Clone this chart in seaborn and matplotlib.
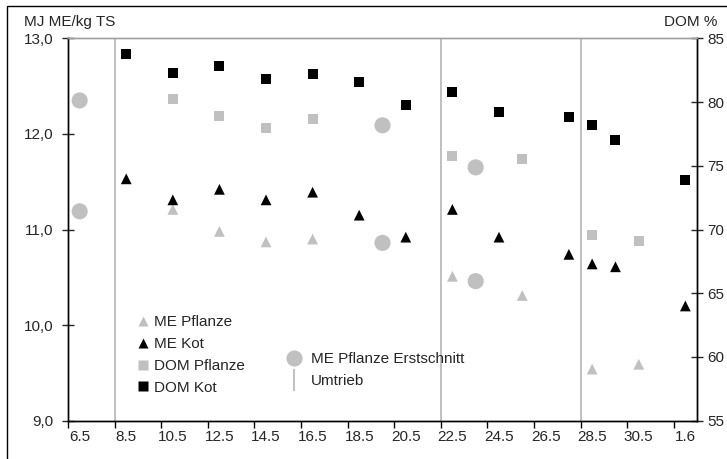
import matplotlib
matplotlib.use("Agg")
import matplotlib.pyplot as plt
import matplotlib.dates as mdates
from matplotlib.lines import Line2D
from matplotlib.patches import Rectangle
from matplotlib.ticker import FixedLocator, FuncFormatter, MultipleLocator, NullFormatter
import pandas as pd
import seaborn as sns

# ---- data ---------------------------------------------------------------
YEAR = 2008
# sampling dates (day.month)
me_pflanze_dates = ["10.5", "12.5", "14.5", "16.5", "22.5", "25.5", "28.5", "30.5"]
me_pflanze = [11.21, 10.98, 10.87, 10.90, 10.51, 10.31, 9.54, 9.59]

me_kot_dates = ["8.5", "10.5", "12.5", "14.5", "16.5", "18.5", "20.5", "22.5",
                "24.5", "27.5", "28.5", "29.5", "1.6"]
me_kot = [11.53, 11.31, 11.42, 11.31, 11.39, 11.15, 10.92, 11.21,
          10.92, 10.74, 10.64, 10.61, 10.20]

dom_pflanze_dates = ["10.5", "12.5", "14.5", "16.5", "22.5", "25.5", "28.5", "30.5"]
dom_pflanze = [80.2, 78.9, 78.0, 78.7, 75.8, 75.5, 69.6, 69.1]

dom_kot_dates = ["8.5", "10.5", "12.5", "14.5", "16.5", "18.5", "20.5", "22.5",
                 "24.5", "27.5", "28.5", "29.5", "1.6"]
dom_kot = [83.8, 82.3, 82.8, 81.8, 82.2, 81.6, 79.8, 80.8,
           79.2, 78.8, 78.2, 77.0, 73.9]

erstschnitt_dates = ["6.5", "6.5", "19.5", "19.5", "23.5", "23.5"]
erstschnitt = [12.35, 11.19, 12.09, 10.86, 11.65, 10.46]

umtrieb_dates = ["8.5", "22.5", "28.5"]

axis_start, axis_end = "6.5", "2.6"
tick_dates = ["6.5", "8.5", "10.5", "12.5", "14.5", "16.5", "18.5", "20.5",
              "22.5", "24.5", "26.5", "28.5", "30.5", "1.6"]


def to_day(labels):
    """Day.month strings -> timestamps at the start of each day."""
    return pd.to_datetime([f"{s}.{YEAR}" for s in labels], format="%d.%m.%Y")


def mid_day(labels):
    # every value sits in the middle of its day slot
    return to_day(labels) + pd.Timedelta(hours=12)


GREY = "#c0c0c0"
BLACK = "#000000"

# ---- figure ---------------------------------------------------------------
sns.set_style("ticks")
plt.rcParams["font.family"] = ["Liberation Sans", "DejaVu Sans"]
plt.rcParams["font.size"] = 11

W, H = 727, 459
fig = plt.figure(figsize=(W / 100, H / 100), dpi=100)
L, R, T, B = 68, 697, 38.3, 420.7
ax = fig.add_axes([L / W, 1 - B / H, (R - L) / W, (B - T) / H])
ax2 = ax.twinx()

# outer chart frame (left/top edges)
fig.patches.append(Rectangle((7 / W, -0.1), 1.2, 1 - 6 / H + 0.1,
                             transform=fig.transFigure, fill=False,
                             edgecolor="black", linewidth=1.0))

# rotation boundaries
for d in to_day(umtrieb_dates):
    ax.axvline(d, color=GREY, linewidth=1.4, zorder=1)

kw = dict(edgecolor="none", legend=False, zorder=3)
sns.scatterplot(x=mid_day(erstschnitt_dates), y=erstschnitt, ax=ax,
                marker="o", s=135, color=GREY, **kw)
sns.scatterplot(x=mid_day(me_pflanze_dates), y=me_pflanze, ax=ax,
                marker="^", s=60, color=GREY, **kw)
sns.scatterplot(x=mid_day(me_kot_dates), y=me_kot, ax=ax,
                marker="^", s=60, color=BLACK, **kw)
sns.scatterplot(x=mid_day(dom_pflanze_dates), y=dom_pflanze, ax=ax2,
                marker="s", s=52, color=GREY, **kw)
sns.scatterplot(x=mid_day(dom_kot_dates), y=dom_kot, ax=ax2,
                marker="s", s=52, color=BLACK, **kw)

# ---- axes -----------------------------------------------------------------
x0, x1 = to_day([axis_start, axis_end])
ax.set_xlim(x0, x1)
ax.set_ylim(9, 13)
ax2.set_ylim(55, 85)
ax.yaxis.set_major_locator(MultipleLocator(1))
ax.yaxis.set_major_formatter(FuncFormatter(lambda v, p: f"{v:.1f}".replace(".", ",")))
ax2.yaxis.set_major_locator(MultipleLocator(5))

ticks = to_day(tick_dates)
ax.xaxis.set_major_locator(FixedLocator(mdates.date2num(ticks)))
ax.xaxis.set_major_formatter(NullFormatter())
ax.xaxis.set_minor_locator(FixedLocator(mdates.date2num(ticks + pd.Timedelta(hours=12))))
ax.xaxis.set_minor_formatter(FuncFormatter(
    lambda v, p: f"{mdates.num2date(v).day}.{mdates.num2date(v).month}"))
ax.tick_params(axis="x", which="major", direction="out", length=5, width=1, color="black")
ax.tick_params(axis="x", which="minor", length=0, pad=7, labelsize=11)
ax.tick_params(axis="y", direction="inout", length=9, width=1, pad=6, labelsize=11)
ax2.tick_params(axis="y", direction="inout", length=9, width=1, pad=3, labelsize=11)

for a in (ax, ax2):
    for side in ("left", "right", "bottom"):
        a.spines[side].set_color("black")
        a.spines[side].set_linewidth(1.0)
    a.spines["top"].set_color("#a0a0a0")
    a.spines["top"].set_linewidth(1.0)
    a.set_xlabel("")
    a.set_ylabel("")

fig.text(24 / W, 1 - 22 / H, "MJ ME/kg TS", fontsize=11, va="center", ha="left")
fig.text(717 / W, 1 - 22 / H, "DOM %", fontsize=11, va="center", ha="right")

# ---- legends ----------------------------------------------------------------
h1 = [
    Line2D([], [], ls="none", marker="^", ms=7.5, color=GREY, mec="none", label="ME Pflanze"),
    Line2D([], [], ls="none", marker="^", ms=7.5, color=BLACK, mec="none", label="ME Kot"),
    Line2D([], [], ls="none", marker="s", ms=7.2, color=GREY, mec="none", label="DOM Pflanze"),
    Line2D([], [], ls="none", marker="s", ms=7.2, color=BLACK, mec="none", label="DOM Kot"),
]
fig.legend(handles=h1, loc="upper left", bbox_to_anchor=(136.7 / W, 1 - 315 / H),
           bbox_transform=fig.transFigure, frameon=False, borderpad=0,
           borderaxespad=0, handlelength=0.8, handletextpad=0.3,
           labelspacing=0.52, fontsize=11)

h2 = [
    Line2D([], [], ls="none", marker="o", ms=11.6, color=GREY, mec="none",
           label="ME Pflanze Erstschnitt"),
    Line2D([], [], ls="none", marker="|", ms=15.5, mew=1.4, color=GREY, label="Umtrieb"),
]
fig.legend(handles=h2, loc="upper left", bbox_to_anchor=(286 / W, 1 - 352 / H),
           bbox_transform=fig.transFigure, frameon=False, borderpad=0,
           borderaxespad=0, handlelength=1.0, handletextpad=0.65,
           labelspacing=0.55, fontsize=11)

fig.savefig("out.png", dpi=100)
